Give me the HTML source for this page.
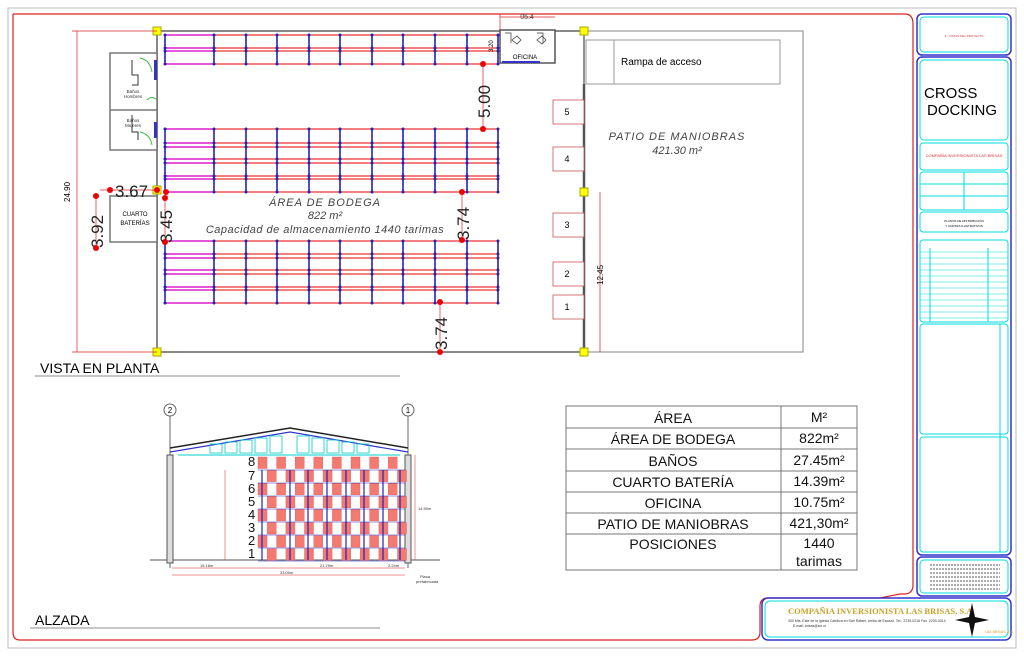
<!DOCTYPE html>
<html><head><meta charset="utf-8"><style>
html,body{margin:0;padding:0;background:#fff;}
svg{display:block;font-family:"Liberation Sans",sans-serif;}
</style></head><body>
<svg id="s" width="1024" height="663" viewBox="0 0 1024 663" xmlns="http://www.w3.org/2000/svg">
<rect x="0" y="0" width="1024" height="663" fill="#fff"/>
<rect x="8" y="8" width="1008" height="640" fill="none" stroke="#bbb" stroke-width="1"/>
<!-- red frame -->
<path d="M13,14 H905 Q913,14 913,24 V585 Q913,594 904,594 H900 L880,598 H768 Q760,598 760,606 V632 Q760,640 752,640 H20 Q13,640 13,632 V14" fill="none" stroke="#d22" stroke-width="1.2"/>
<!-- plan walls -->
<rect x="157" y="31" width="427" height="321" fill="none" stroke="#888" stroke-width="2"/>
<rect x="584" y="31" width="219" height="321" fill="none" stroke="#999" stroke-width="1.2"/>
<line x1="584" y1="84" x2="584" y2="352" stroke="#555" stroke-width="2.5"/>
<rect x="586" y="40" width="194" height="44" fill="#fff" stroke="#999"/>
<line x1="614" y1="40" x2="614" y2="84" stroke="#999"/>
<text x="621" y="65" font-size="10">Rampa de acceso</text>
<text x="677" y="140" font-size="11" font-style="italic" fill="#444" text-anchor="middle" letter-spacing="1">PATIO DE MANIOBRAS</text>
<text x="677" y="154" font-size="11" font-style="italic" fill="#444" text-anchor="middle">421.30 m²</text>
<g fill="#fff" stroke="#c55" stroke-width="0.8" font-size="9">
<rect x="553" y="100" width="31" height="24"/><rect x="553" y="147" width="31" height="24"/>
<rect x="553" y="213" width="31" height="24"/><rect x="553" y="262" width="31" height="24"/>
<rect x="553" y="295" width="31" height="24"/></g>
<g font-size="9" text-anchor="middle"><text x="567" y="115">5</text><text x="567" y="162">4</text><text x="567" y="228">3</text><text x="567" y="277">2</text><text x="567" y="310">1</text></g>
<g fill="#ff0" stroke="#aa0" stroke-width="1"><rect x="153" y="27" width="8" height="8"/><rect x="580" y="27" width="8" height="8"/><rect x="153" y="348" width="8" height="8"/><rect x="580" y="348" width="8" height="8"/><rect x="580" y="188" width="8" height="8"/><rect x="153" y="186" width="8" height="8"/></g>
<!-- restrooms -->
<rect x="110" y="53" width="47" height="97" fill="#fff" stroke="#777" stroke-width="1.5"/>
<line x1="110" y1="110" x2="157" y2="110" stroke="#777" stroke-width="1.5"/>
<path d="M132,60 V75 H138 V85 H132 M132,115 V132 H138 V140" fill="none" stroke="#333"/>
<path d="M140,58 Q150,60 152,72 M140,132 Q150,134 152,145 M147,100 Q152,95 157,100" fill="none" stroke="#4b4"/>
<g font-size="4.5" fill="#333" text-anchor="middle"><text x="133" y="93">Baños</text><text x="133" y="98">Hombres</text><text x="133" y="122">Baños</text><text x="133" y="127">Mujeres</text></g>
<rect x="154" y="60" width="3" height="20" fill="#33c"/><rect x="154" y="122" width="3" height="16" fill="#33c"/>
<!-- bateria -->
<rect x="110" y="196" width="47" height="46" fill="#fff" stroke="#777" stroke-width="1.5"/>
<text x="135" y="216" font-size="6" text-anchor="middle">CUARTO</text><text x="135" y="225" font-size="6" text-anchor="middle">BATERÍAS</text>
<!-- office -->
<rect x="500" y="30" width="55" height="33" fill="#fff" stroke="#555" stroke-width="1.5"/>
<line x1="502" y1="62" x2="540" y2="62" stroke="#33c" stroke-width="2"/>
<text x="525" y="59" font-size="6" text-anchor="middle">OFICINA</text>
<path d="M505,33 h6 v10 M537,33 h6 v10 M512,40 l5,-4 l4,4 l-4,4z M537,40 l5,-4 l4,4 l-4,4z" fill="none" stroke="#333" stroke-width="0.7"/>
<line x1="500" y1="17" x2="555" y2="17" stroke="#d22" stroke-width="0.7"/><text x="527" y="19" font-size="7" text-anchor="middle" fill="#444">05.4</text>
<line x1="500" y1="14" x2="500" y2="30" stroke="#d22" stroke-width="0.7"/>
<g id="racks"></g>
<!-- dims -->
<g stroke="#d22" stroke-width="0.7" fill="none">
<line x1="77" y1="31" x2="77" y2="352"/><line x1="72" y1="31" x2="157" y2="31"/><line x1="72" y1="352" x2="157" y2="352"/>
<line x1="600" y1="192" x2="600" y2="352"/>
<line x1="100" y1="190" x2="160" y2="190"/><line x1="96" y1="196" x2="96" y2="248"/>
<line x1="483" y1="63" x2="483" y2="129"/><line x1="462" y1="192" x2="462" y2="240"/><line x1="440" y1="303" x2="440" y2="352"/>
<line x1="165" y1="198" x2="165" y2="242"/>
</g>
<g fill="#e00"><circle cx="110" cy="190" r="3"/><circle cx="157" cy="190" r="3"/><circle cx="96" cy="196" r="3"/><circle cx="96" cy="248" r="3"/><circle cx="165" cy="198" r="3"/><circle cx="165" cy="242" r="3"/><circle cx="483" cy="64" r="3"/><circle cx="483" cy="129" r="3"/><circle cx="462" cy="192" r="3"/><circle cx="462" cy="240" r="3"/><circle cx="440" cy="302" r="3"/><circle cx="440" cy="352" r="3"/><circle cx="166" cy="192" r="3"/></g>
<g font-size="17" fill="#222">
<text x="115" y="197">3.67</text>
<text transform="translate(103,248) rotate(-90)">3.92</text>
<text transform="translate(172,243) rotate(-90)">3.45</text>
<text transform="translate(490,118) rotate(-90)">5.00</text>
<text transform="translate(469,240) rotate(-90)">3.74</text>
<text transform="translate(447,350) rotate(-90)">3.74</text>
</g>
<text transform="translate(70,202) rotate(-90)" font-size="8">24.90</text>
<text transform="translate(603,285) rotate(-90)" font-size="8">12.45</text>
<text transform="translate(493,52) rotate(-90)" font-size="6">3.20</text>
<g font-size="11" font-style="italic" fill="#444" text-anchor="middle"><text x="325" y="206" letter-spacing="1">ÁREA DE BODEGA</text><text x="325" y="219">822 m²</text><text x="325" y="233" letter-spacing="0.5">Capacidad de almacenamiento 1440 tarimas</text></g>
<text x="40" y="373" font-size="14">VISTA EN PLANTA</text><line x1="35" y1="376" x2="400" y2="376" stroke="#666" stroke-width="0.8"/>
<text x="35" y="625" font-size="14">ALZADA</text><line x1="30" y1="628" x2="380" y2="628" stroke="#666" stroke-width="0.8"/>
<!-- table -->
<g stroke="#777" stroke-width="1" fill="none"><rect x="566" y="406" width="291" height="164"/><line x1="781" y1="406" x2="781" y2="570"/>
<line x1="566" y1="428" x2="857" y2="428"/><line x1="566" y1="449" x2="857" y2="449"/><line x1="566" y1="471" x2="857" y2="471"/><line x1="566" y1="492" x2="857" y2="492"/><line x1="566" y1="513" x2="857" y2="513"/><line x1="566" y1="534" x2="857" y2="534"/></g>
<g font-size="14" text-anchor="middle" fill="#111">
<text x="673" y="423">ÁREA</text><text x="819" y="422">M²</text>
<text x="673" y="444">ÁREA DE BODEGA</text><text x="819" y="443">822m²</text>
<text x="673" y="466">BAÑOS</text><text x="819" y="465">27.45m²</text>
<text x="673" y="487">CUARTO BATERÍA</text><text x="819" y="486">14.39m²</text>
<text x="673" y="508">OFICINA</text><text x="819" y="507">10.75m²</text>
<text x="673" y="529">PATIO DE MANIOBRAS</text><text x="819" y="528">421,30m²</text>
<text x="673" y="549">POSICIONES</text><text x="819" y="548">1440</text><text x="819" y="566">tarimas</text></g>
<!-- elevation -->
<line x1="150" y1="560" x2="440" y2="560" stroke="#555"/>
<g stroke="#666" fill="none"><line x1="170" y1="416" x2="170" y2="568"/><line x1="408" y1="416" x2="408" y2="568"/><circle cx="170" cy="410" r="6"/><circle cx="408" cy="410" r="6"/></g>
<text x="170" y="413" font-size="8" text-anchor="middle">2</text><text x="408" y="413" font-size="8" text-anchor="middle">1</text>
<rect x="167" y="455" width="6" height="108" fill="#ddd" stroke="#555"/><rect x="405" y="455" width="6" height="108" fill="#ddd" stroke="#555"/>
<path d="M170,448 L290,428 L408,448" fill="none" stroke="#222" stroke-width="1.5"/>
<path d="M170,452 L290,432 L408,452" fill="none" stroke="#33c" stroke-width="1.2"/>
<path d="M178,455 H400" stroke="#0cc" stroke-width="1"/>
<g stroke="#0cc" fill="none" stroke-width="0.8"><rect x="210" y="444" width="12" height="9"/><rect x="225" y="442" width="12" height="11"/><rect x="240" y="440" width="12" height="13"/><rect x="255" y="438" width="12" height="15"/><rect x="270" y="436" width="12" height="17"/><rect x="297" y="436" width="12" height="17"/><rect x="312" y="438" width="12" height="15"/><rect x="327" y="440" width="12" height="13"/><rect x="342" y="442" width="12" height="11"/><rect x="357" y="444" width="12" height="9"/></g>
<g id="pal"></g>
<g font-size="13" fill="#111"><text x="248" y="466">8</text><text x="248" y="480">7</text><text x="248" y="493">6</text><text x="248" y="506">5</text><text x="248" y="519">4</text><text x="248" y="532">3</text><text x="248" y="545">2</text><text x="248" y="558">1</text></g>
<g stroke="#d22" stroke-width="0.5"><line x1="172" y1="568" x2="405" y2="568"/><line x1="172" y1="575" x2="405" y2="575"/><line x1="225" y1="470" x2="225" y2="560"/><line x1="415" y1="455" x2="415" y2="560"/></g>
<g font-size="4" fill="#333"><text x="200" y="567">15.18m</text><text x="320" y="567">21.79m</text><text x="280" y="574">33.00m</text><text x="388" y="567">2.24m</text><text x="418" y="510">14.50m</text><text x="420" y="578">Placa</text><text x="416" y="583">prefabricada</text></g>
<!-- title block -->
<g fill="none">
<rect x="917" y="14" width="94" height="41" rx="5" stroke="#33c" stroke-width="1.5"/><rect x="920" y="17" width="88" height="35" rx="4" stroke="#0dd"/>
<rect x="917" y="57" width="94" height="498" rx="5" stroke="#33c" stroke-width="1.5"/>
<rect x="920" y="60" width="88" height="80" rx="4" stroke="#0dd"/>
<rect x="920" y="143" width="88" height="27" rx="3" stroke="#0dd"/>
<rect x="920" y="172" width="88" height="38" rx="3" stroke="#0dd"/>
<line x1="920" y1="184" x2="1008" y2="184" stroke="#0dd"/><line x1="920" y1="196" x2="1008" y2="196" stroke="#0dd"/><line x1="964" y1="172" x2="964" y2="210" stroke="#0dd"/>
<rect x="920" y="212" width="88" height="20" rx="3" stroke="#0dd"/>
<rect x="920" y="240" width="88" height="82" rx="3" stroke="#0dd"/>
<line x1="930" y1="248" x2="930" y2="322" stroke="#0dd"/><line x1="988" y1="248" x2="988" y2="322" stroke="#0dd"/>
<rect x="920" y="324" width="88" height="110" rx="3" stroke="#0dd"/>
<rect x="920" y="437" width="88" height="115" rx="3" stroke="#0dd"/>
<line x1="1000" y1="324" x2="1000" y2="552" stroke="#0dd"/>
<rect x="917" y="557" width="94" height="39" rx="5" stroke="#33c" stroke-width="1.5"/><rect x="920" y="560" width="88" height="33" rx="4" stroke="#0dd"/>
<rect x="762" y="598" width="249" height="42" rx="6" stroke="#33c" stroke-width="1.5"/><rect x="765" y="601" width="243" height="36" rx="5" stroke="#0dd"/>
</g>
<g id="tb"></g>
<text x="924" y="98" font-size="15">CROSS</text><text x="927" y="115" font-size="15">DOCKING</text>
<text x="964" y="157" font-size="4" fill="#d33" text-anchor="middle">COMPAÑÍA INVERSIONISTA LAS BRISAS</text>
<text x="964" y="37" font-size="3" fill="#d33" text-anchor="middle">4 - VISTAS DEL PROYECTO</text>
<text x="964" y="222" font-size="3" text-anchor="middle">PLANOS DE DISTRIBUCIÓN</text><text x="964" y="227" font-size="3" text-anchor="middle">Y CORTES ILUSTRATIVOS</text>
<text x="788" y="614" font-size="8.5" font-weight="bold" fill="#c9a227" font-family="Liberation Serif,serif">COMPAÑIA INVERSIONISTA LAS BRISAS, S.A</text>
<text x="788" y="622" font-size="3.5" fill="#333">300 Mts. Este de la Iglesia Católica en San Rafael, arriba de Escazú. Tel.: 2239-0216 Fax. 2239-0014</text>
<text x="793" y="627" font-size="3.5" fill="#333">E-mail: brisas@ice.cr</text>
<text x="985" y="633" font-size="3.5" fill="#c9a227">LAS BRISAS, S.A</text>
<path d="M972,603 L975,617 L989,620 L975,623 L972,637 L969,623 L955,620 L969,617Z" fill="#111"/>
</svg>
<script>
var NS="http://www.w3.org/2000/svg";
function el(p,t,a){var e=document.createElementNS(NS,t);for(var k in a)e.setAttribute(k,a[k]);p.appendChild(e);return e;}
var R=document.getElementById("racks");
var xs=[165,214,246,277,309,340,372,403,435,467,498];
function group(ys){
 ys.forEach(function(y){el(R,"line",{x1:165,y1:y,x2:498,y2:y,stroke:"#e33","stroke-width":1.2});el(R,"line",{x1:165,y1:y,x2:214,y2:y,stroke:"#d3d","stroke-width":1.4});});
 xs.forEach(function(x){el(R,"line",{x1:x,y1:ys[0],x2:x,y2:ys[ys.length-1],stroke:"#22b","stroke-width":1.6});ys.forEach(function(y){el(R,"circle",{cx:x,cy:y,r:1.5,fill:"#22b"});});});
}
group([35,48,51,64]);group([129,143,147,159,163,176,179,192]);group([241,254,258,270,274,287,290,303]);
var P=document.getElementById("pal");
for(var r=0;r<8;r++){var y=457+r*13.1;for(var c=0;c<16;c++){var x=258+c*9.3;
 if((c+r)%2==0)el(P,"rect",{x:x,y:y,width:9,height:11.5,fill:"#f27a70",stroke:"#e55","stroke-width":0.4});}}
[262,290,308,327,346,364,383,400].forEach(function(x){el(P,"line",{x1:x,y1:470,x2:x,y2:560,stroke:"#22b","stroke-width":1.2});});
for(var r=0;r<8;r++)el(P,"line",{x1:258,y1:470+r*13,x2:405,y2:470+r*13,stroke:"#22b","stroke-width":0.5});
var T=document.getElementById("tb");
for(var i=0;i<12;i++)el(T,"line",{x1:920,y1:252+i*6,x2:1008,y2:252+i*6,stroke:"#0dd","stroke-width":0.6});
for(var i=0;i<7;i++)el(T,"line",{x1:930,y1:565+i*4,x2:1000,y2:565+i*4,stroke:"#222","stroke-width":0.8,"stroke-dasharray":"2 1"});
</script>
</body></html>
